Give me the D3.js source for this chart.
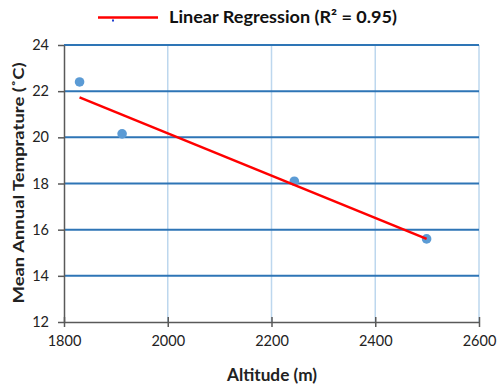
<!DOCTYPE html>
<html><head><meta charset="utf-8">
<script src="https://cdn.jsdelivr.net/npm/d3@7"></script>
<style>body{margin:0;background:#fff}svg{display:block}</style>
</head><body>
<script>
const altitude = [1830, 1912, 2244, 2499];
const temperature = [22.4, 20.15, 18.1, 15.6];
const regX = [1830, 2499];
const regY = [21.73, 15.6];
const xTicks = [1800, 2000, 2200, 2400, 2600];
const yTicks = [12, 14, 16, 18, 20, 22, 24];
const legendLabel = "Linear Regression (R² = 0.95)";
const xTitle = "Altitude (m)";
const yTitle = "Mean Annual Temprature (˚C)";

const W = 500, H = 387;
const svg = d3.select("body").append("svg").attr("width", W).attr("height", H);
const x = d3.scaleLinear().domain([1800, 2600]).range([64, 479]);
const y = d3.scaleLinear().domain([12, 24]).range([322, 45]);
const font = "Lato, 'Open Sans', sans-serif";

// vertical gridlines
svg.append("g").selectAll("line").data(xTicks.slice(1)).join("line")
  .attr("x1", d => x(d)).attr("x2", d => x(d)).attr("y1", y(24)).attr("y2", y(12))
  .attr("stroke", "#bdd7ee").attr("stroke-width", 1.5);
// horizontal gridlines
svg.append("g").selectAll("line").data(yTicks.slice(1)).join("line")
  .attr("x1", x(1800)).attr("x2", x(2600)).attr("y1", d => y(d)).attr("y2", d => y(d))
  .attr("stroke", "#2e75b6").attr("stroke-width", 2);

// axes
const xAxis = d3.axisBottom(x).tickValues(xTicks).tickSize(5).tickSizeOuter(0).tickFormat(d3.format("d"));
const gx = svg.append("g").attr("transform", `translate(0,${y(12)})`).call(xAxis);
gx.select(".domain").attr("stroke", "#595959").attr("stroke-width", 1.5);
gx.selectAll(".tick line").attr("stroke", "#595959").attr("stroke-width", 1.5).attr("y1", -5).attr("y2", 5);
gx.selectAll(".tick text").attr("font-family", font).attr("font-size", 14.5).attr("fill", "#222")
  .attr("y", 14).attr("dy", "0.71em");

const yAxis = d3.axisLeft(y).tickValues(yTicks).tickSize(6).tickSizeOuter(0);
const gy = svg.append("g").attr("transform", `translate(${x(1800)},0)`).call(yAxis);
gy.select(".domain").attr("stroke", "#595959").attr("stroke-width", 1.5);
gy.selectAll(".tick line").attr("stroke", "#595959").attr("stroke-width", 1.5);
gy.selectAll(".tick text").attr("font-family", font).attr("font-size", 14.5).attr("fill", "#222").attr("x", -15);

// points
svg.append("g").selectAll("circle").data(altitude).join("circle")
  .attr("cx", d => x(d)).attr("cy", (d, i) => y(temperature[i])).attr("r", 4.8)
  .attr("fill", "#5b9bd5");

// regression line
svg.append("line")
  .attr("x1", x(regX[0])).attr("y1", y(regY[0])).attr("x2", x(regX[1])).attr("y2", y(regY[1]))
  .attr("stroke", "#ff0000").attr("stroke-width", 2.5);

// legend
svg.append("line").attr("x1", 98).attr("x2", 158).attr("y1", 17.5).attr("y2", 17.5)
  .attr("stroke", "#ff0000").attr("stroke-width", 2.5);
svg.append("rect").attr("x", 112).attr("y", 19.5).attr("width", 2).attr("height", 2).attr("fill", "#1f3fd0");
svg.append("text").attr("x", 169).attr("y", 23).attr("font-family", font).attr("font-weight", "bold")
  .attr("font-size", 17).attr("fill", "#111").attr("textLength", 228).attr("lengthAdjust", "spacingAndGlyphs")
  .text(legendLabel);

// titles
svg.append("text").attr("x", 272).attr("y", 381).attr("text-anchor", "middle")
  .attr("font-family", font).attr("font-weight", "bold").attr("font-size", 16.5).attr("fill", "#222")
  .attr("textLength", 90).attr("lengthAdjust", "spacingAndGlyphs")
  .text(xTitle);
svg.append("text").attr("transform", "translate(24,183) rotate(-90)").attr("text-anchor", "middle")
  .attr("font-family", font).attr("font-weight", "bold").attr("font-size", 16).attr("fill", "#222")
  .attr("textLength", 241).attr("lengthAdjust", "spacingAndGlyphs")
  .text(yTitle);
</script>
</body></html>
